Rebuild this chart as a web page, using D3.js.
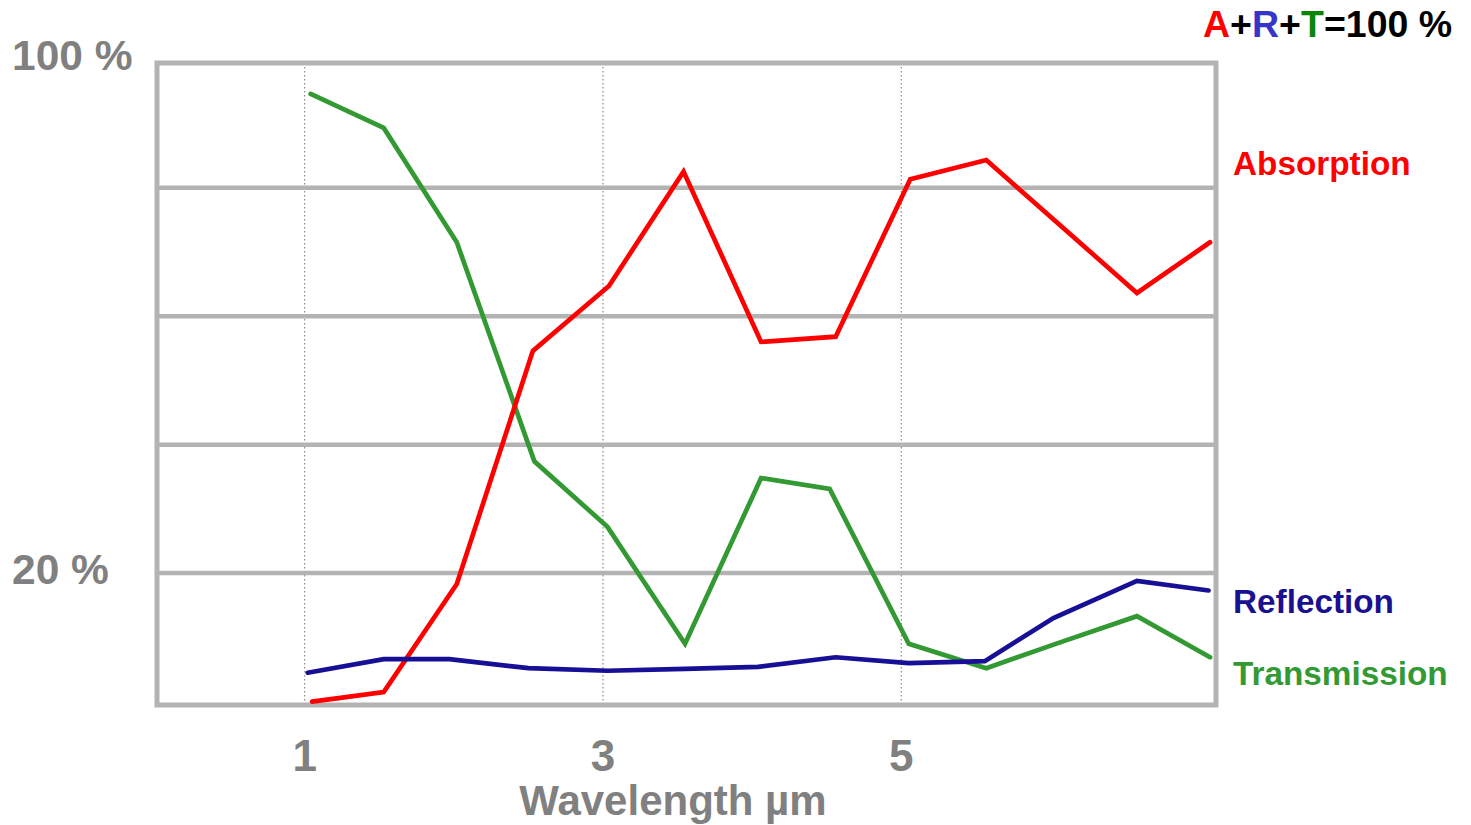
<!DOCTYPE html>
<html>
<head>
<meta charset="utf-8">
<script src="https://cdn.jsdelivr.net/npm/d3@7"></script>
<style>
  html, body { margin: 0; padding: 0; background: #fff; }
  svg { display: block; font-family: "Liberation Sans", Arial, Helvetica, sans-serif; font-weight: bold; }
</style>
</head>
<body>
<svg id="chart" width="1471" height="825"></svg>
<script>
// ---- Data (wavelength in µm, value in %) ----
const absorptionX = [1.05, 1.53, 2.02, 2.53, 3.04, 3.54, 4.06, 4.56, 5.06, 5.57, 6.58, 7.07];
const absorptionY = [0.0, 1.5, 18.3, 54.6, 64.7, 82.5, 56.0, 56.8, 81.3, 84.3, 63.6, 71.5];

const reflectionX = [1.02, 1.53, 1.97, 2.50, 3.03, 3.55, 4.04, 4.56, 5.05, 5.56, 6.02, 6.58, 7.06];
const reflectionY = [4.5, 6.6, 6.6, 5.2, 4.8, 5.1, 5.4, 6.9, 6.0, 6.3, 13.0, 18.8, 17.3];

const transmissionX = [1.04, 1.53, 2.02, 2.54, 3.03, 3.55, 4.06, 4.52, 5.05, 5.57, 6.05, 6.58, 7.07];
const transmissionY = [94.6, 89.3, 71.5, 37.4, 27.2, 9.0, 34.8, 33.1, 9.0, 5.2, 9.1, 13.3, 6.9];

const xTickValues = [1, 3, 5];
const gridValues = [20, 40, 60, 80];
const yLabelValues = [100, 20];
const yLabelTexts = ["100 %", "20 %"];
const xDomain = [0.01, 7.11];
const yDomain = [0, 100];

// ---- Layout ----
const svg = d3.select("#chart");
const plot = { left: 157, right: 1216, top: 63, bottom: 705 };
const gridColor = "#b3b3b3";
const labelGray = "#808080";

const x = d3.scaleLinear().domain(xDomain).range([plot.left, plot.right]);
const y = d3.scaleLinear().domain(yDomain).range([701.6, 59.2]);

// dotted vertical guides at x ticks
svg.append("g").selectAll("line").data(xTickValues).join("line")
  .attr("x1", d => x(d)).attr("x2", d => x(d))
  .attr("y1", plot.top).attr("y2", plot.bottom)
  .attr("stroke", "#8a8a8a").attr("stroke-width", 1.2)
  .attr("stroke-dasharray", "1.5,2.5");

// horizontal grid lines
svg.append("g").selectAll("line").data(gridValues).join("line")
  .attr("x1", plot.left).attr("x2", plot.right)
  .attr("y1", d => y(d)).attr("y2", d => y(d))
  .attr("stroke", gridColor).attr("stroke-width", 4.5);

// frame
svg.append("rect")
  .attr("x", plot.left).attr("y", plot.top)
  .attr("width", plot.right - plot.left).attr("height", plot.bottom - plot.top)
  .attr("fill", "none").attr("stroke", gridColor).attr("stroke-width", 5);

// y labels
svg.append("g").selectAll("text").data(yLabelValues).join("text")
  .attr("x", 12).attr("y", d => y(d) + 11)
  .attr("font-size", 42.5).attr("fill", labelGray)
  .text((d, i) => yLabelTexts[i]);

// x tick labels
svg.append("g").selectAll("text").data(xTickValues).join("text")
  .attr("x", d => x(d)).attr("y", 771)
  .attr("text-anchor", "middle")
  .attr("font-size", 44).attr("fill", labelGray)
  .text(d => d);

// x axis title
svg.append("text")
  .attr("x", 673).attr("y", 815)
  .attr("text-anchor", "middle")
  .attr("font-size", 42).attr("fill", labelGray)
  .text("Wavelength µm");

// series
const series = [
  { name: "Absorption", xs: absorptionX, ys: absorptionY, color: "#ff0000", labelColor: "#ff0000", labelY: 175 },
  { name: "Reflection", xs: reflectionX, ys: reflectionY, color: "#170f96", labelColor: "#1a1190", labelY: 613 },
  { name: "Transmission", xs: transmissionX, ys: transmissionY, color: "#339933", labelColor: "#339933", labelY: 685 }
];

const line = d3.line().x(d => x(d[0])).y(d => y(d[1]));

// draw order: transmission, absorption, reflection on top
[series[2], series[0], series[1]].forEach(s => {
  const pts = s.xs.map((v, i) => [v, s.ys[i]]);
  svg.append("path")
    .datum(pts)
    .attr("d", line)
    .attr("fill", "none")
    .attr("stroke", s.color)
    .attr("stroke-width", 4.7)
    .attr("stroke-linejoin", "miter")
    .attr("stroke-linecap", "round");
});

svg.append("g").selectAll("text").data(series).join("text")
  .attr("x", 1233).attr("y", d => d.labelY)
  .attr("font-size", 33.3).attr("fill", d => d.labelColor)
  .text(d => d.name);

// title formula
const title = svg.append("text").attr("x", 1203).attr("y", 37).attr("font-size", 37.5);
const parts = [
  ["A", "#ff0000"], ["+", "#000"], ["R", "#3535c8"], ["+", "#000"],
  ["T", "#0a850a"], ["=100 %", "#000"]
];
parts.forEach(p => title.append("tspan").attr("fill", p[1]).text(p[0]));
</script>
</body>
</html>
